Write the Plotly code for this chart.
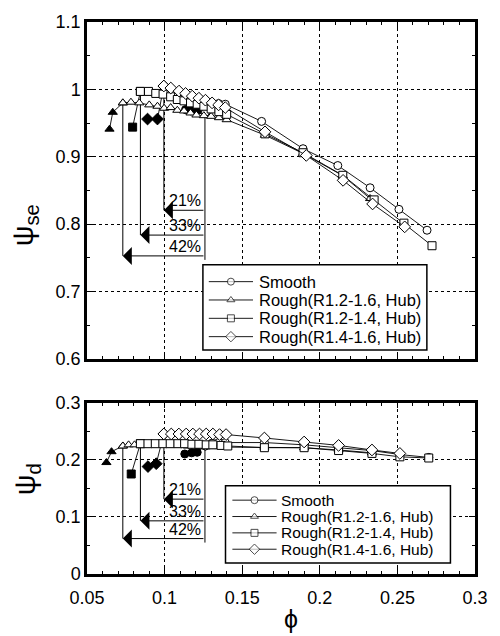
import plotly.graph_objects as go

# ---------------- data: static pressure coefficient (upper panel) ----------------
phi_smooth_se = [0.1263, 0.1306, 0.1348, 0.1391, 0.1625, 0.1892, 0.2116, 0.2324, 0.2510, 0.2691]
psi_smooth_se = [0.966, 0.976, 0.979, 0.978, 0.9525, 0.912, 0.887, 0.854, 0.822, 0.791]
phi_smooth_se_stall = [0.1135, 0.1170, 0.1205, 0.1235]
psi_smooth_se_stall = [0.970, 0.968, 0.968, 0.970]

phi_r1216_se = [0.0731, 0.0783, 0.0837, 0.0901, 0.0954, 0.0997, 0.1039, 0.1082, 0.1125, 0.1167,
                0.1205, 0.1253, 0.1300, 0.1350, 0.1400, 0.1647, 0.1892, 0.2148, 0.2324]
psi_r1216_se = [0.980, 0.981, 0.980, 0.977, 0.975, 0.972, 0.973, 0.969, 0.968, 0.965,
                0.962, 0.961, 0.960, 0.958, 0.955, 0.932, 0.905, 0.872, 0.838]
phi_r1216_se_stall = [0.0645, 0.0666]
psi_r1216_se_stall = [0.941, 0.966]

phi_r1214_se = [0.0844, 0.0896, 0.0943, 0.0990, 0.1039, 0.1082, 0.1125, 0.1167, 0.1210, 0.1253,
                0.1300, 0.1350, 0.1400, 0.1647, 0.1892, 0.2148, 0.2350, 0.2542, 0.2723]
psi_r1214_se = [0.997, 0.997, 0.994, 0.993, 0.989, 0.985, 0.983, 0.980, 0.978, 0.975,
                0.971, 0.967, 0.963, 0.934, 0.906, 0.8725, 0.836, 0.8015, 0.768]
phi_r1214_se_stall = [0.0794]
psi_r1214_se_stall = [0.944]

phi_r1416_se = [0.0995, 0.1040, 0.1093, 0.1135, 0.1178, 0.1221, 0.1263, 0.1306, 0.1348, 0.1391,
                0.1647, 0.1913, 0.2150, 0.2340, 0.2547]
psi_r1416_se = [1.005, 1.002, 0.9975, 0.994, 0.990, 0.987, 0.984, 0.980, 0.977, 0.973,
                0.937, 0.902, 0.865, 0.830, 0.796]
phi_r1416_se_stall = [0.0890, 0.0954]
psi_r1416_se_stall = [0.956, 0.956]

# ---------------- data: dynamic pressure coefficient (lower panel) ----------------
phi_smooth_d = [0.1263, 0.1306, 0.1348, 0.1391, 0.1643, 0.1899, 0.2121, 0.2336, 0.2516, 0.2702]
psi_smooth_d = [0.224, 0.229, 0.230, 0.230, 0.230, 0.226, 0.221, 0.216, 0.209, 0.204]
phi_smooth_d_stall = [0.1130, 0.1175, 0.1210]
psi_smooth_d_stall = [0.210, 0.212, 0.213]

phi_r1216_d = [0.0731, 0.0768, 0.0806, 0.0850, 0.0900, 0.0950, 0.1000, 0.1050, 0.1100, 0.1150,
               0.1200, 0.1250, 0.1300, 0.1350, 0.1400, 0.1643, 0.1899, 0.2121, 0.2336]
psi_r1216_d = [0.224, 0.226, 0.226, 0.226, 0.226, 0.226, 0.225, 0.225, 0.225, 0.224,
               0.224, 0.224, 0.223, 0.223, 0.222, 0.222, 0.221, 0.217, 0.212]
phi_r1216_d_stall = [0.0625, 0.0658]
psi_r1216_d_stall = [0.195, 0.214]

phi_r1214_d = [0.0844, 0.0893, 0.0940, 0.0989, 0.1036, 0.1086, 0.1129, 0.1176, 0.1221, 0.1268,
               0.1311, 0.1364, 0.1407, 0.1643, 0.1899, 0.2121, 0.2336, 0.2516, 0.2702]
psi_r1214_d = [0.228, 0.228, 0.228, 0.228, 0.228, 0.228, 0.228, 0.227, 0.227, 0.226,
               0.226, 0.225, 0.224, 0.221, 0.221, 0.216, 0.211, 0.205, 0.203]
phi_r1214_d_stall = [0.0785]
psi_r1214_d_stall = [0.175]

phi_r1416_d = [0.0995, 0.1043, 0.1092, 0.1139, 0.1182, 0.1225, 0.1268, 0.1311, 0.1354, 0.1396,
               0.1643, 0.1899, 0.2121, 0.2336, 0.2516]
psi_r1416_d = [0.245, 0.245, 0.245, 0.245, 0.245, 0.245, 0.245, 0.245, 0.244, 0.244,
               0.238, 0.231, 0.225, 0.217, 0.211]
phi_r1416_d_stall = [0.0893, 0.0946]
psi_r1416_d_stall = [0.188, 0.193]

# operating-range extension relative to the smooth wall
range_pct = [21, 33, 42]
phi_stall_smooth = 0.126

series_names = ["Smooth", "Rough(R1.2-1.6, Hub)", "Rough(R1.2-1.4, Hub)", "Rough(R1.4-1.6, Hub)"]
symbols = ["circle", "triangle-up", "square", "diamond"]
sizes = [8, 8, 8, 9]

FONT = "Liberation Sans"
fig = go.Figure()

# layout geometry (pixels)
W, H = 500, 636
ML, MR, MT, MB = 87, 18, 17, 62
PW, PH = W - ML - MR, H - MT - MB
X_RANGE = [0.05, 0.3]
Y_RANGE = {"top": [0.6, 1.1], "bottom": [0.0, 0.3]}
Y_DOMAIN = {"top": [0.3896, 1.0], "bottom": [0.0, 0.3106]}


def px_to_data(panel, px, py):
    """Convert a page pixel position into data coordinates of a panel."""
    d0, d1 = Y_DOMAIN[panel]
    top_px = MT + (1 - d1) * PH
    bot_px = MT + (1 - d0) * PH
    y0, y1 = Y_RANGE[panel]
    xv = X_RANGE[0] + (px - ML) / PW * (X_RANGE[1] - X_RANGE[0])
    yv = y1 - (py - top_px) / (bot_px - top_px) * (y1 - y0)
    return xv, yv


panels = {
    "top": dict(xa="x", ya="y", levels=[0.8206, 0.7838, 0.7529], base=0.747,
                legend_box=(205, 262, 433, 348), legend_rows=[279, 297.5, 316, 334.5],
                legend_sample=(211, 256), legend_text=261, legend_font=16.5,
                series=[(phi_smooth_se, psi_smooth_se, phi_smooth_se_stall, psi_smooth_se_stall),
                        (phi_r1216_se, psi_r1216_se, phi_r1216_se_stall, psi_r1216_se_stall),
                        (phi_r1214_se, psi_r1214_se, phi_r1214_se_stall, psi_r1214_se_stall),
                        (phi_r1416_se, psi_r1416_se, phi_r1416_se_stall, psi_r1416_se_stall)]),
    "bottom": dict(xa="x2", ya="y2", levels=[0.131, 0.093, 0.062], base=0.055,
                   legend_box=(228, 485, 457, 563), legend_rows=[499.5, 516, 532.5, 549],
                   legend_sample=(235, 280), legend_text=283, legend_font=15.5,
                   series=[(phi_smooth_d, psi_smooth_d, phi_smooth_d_stall, psi_smooth_d_stall),
                           (phi_r1216_d, psi_r1216_d, phi_r1216_d_stall, psi_r1216_d_stall),
                           (phi_r1214_d, psi_r1214_d, phi_r1214_d_stall, psi_r1214_d_stall),
                           (phi_r1416_d, psi_r1416_d, phi_r1416_d_stall, psi_r1416_d_stall)]),
}

# series that opens each extended range: 21% -> R1.4-1.6, 33% -> R1.2-1.4, 42% -> R1.2-1.6
pct_series = [3, 2, 1]

for key, p in panels.items():
    ser = p["series"]
    # guide lines: from each series' first stable point down to its arrow level
    gx, gy = [], []
    for pct, lev, si in zip(range_pct, p["levels"], pct_series):
        phi_left = phi_stall_smooth * (1 - pct / 100)
        gx += [phi_left, phi_left, None]
        gy += [ser[si][1][0], lev, None]
    gx += [phi_stall_smooth, phi_stall_smooth, None]
    gy += [ser[0][1][0], p["base"], None]
    fig.add_trace(go.Scatter(x=gx, y=gy, mode="lines", line=dict(color="black", width=1),
                             xaxis=p["xa"], yaxis=p["ya"], showlegend=False, hoverinfo="skip"))

    # stall points (filled) joined to the first stable point
    for i, (fx, fy, sx, sy) in enumerate(ser):
        fig.add_trace(go.Scatter(
            x=sx + [fx[0]], y=sy + [fy[0]], mode="lines+markers",
            xaxis=p["xa"], yaxis=p["ya"], showlegend=False,
            line=dict(color="black", width=0.9),
            marker=dict(symbol=symbols[i], size=sizes[i],
                        color=["black"] * len(sx) + ["white"],
                        line=dict(color="black", width=1))))

    # stable operating points
    for i, (fx, fy, sx, sy) in enumerate(ser):
        fig.add_trace(go.Scatter(
            x=fx, y=fy, mode="lines+markers", name=series_names[i], showlegend=False,
            xaxis=p["xa"], yaxis=p["ya"],
            line=dict(color="black", width=0.9),
            marker=dict(symbol=symbols[i], size=sizes[i], color="white",
                        line=dict(color="black", width=1))))

    # arrows and percentage labels
    for pct, lev in zip(range_pct, p["levels"]):
        phi_left = phi_stall_smooth * (1 - pct / 100)
        fig.add_annotation(x=phi_left, y=lev, ax=phi_stall_smooth, ay=lev,
                           xref=p["xa"], yref=p["ya"], axref=p["xa"], ayref=p["ya"],
                           text="", showarrow=True, arrowhead=1, arrowsize=3,
                           arrowwidth=1, arrowcolor="black")
        fig.add_annotation(x=0.1133, y=lev, xref=p["xa"], yref=p["ya"], text=f"{pct}%",
                           showarrow=False, yanchor="bottom", yshift=-1,
                           font=dict(family=FONT, size=16, color="black"))

    # legend box (opaque over the grid, under the sample marks)
    bx0, by0, bx1, by1 = p["legend_box"]
    lx0, ly0 = px_to_data(key, bx0, by0)
    lx1, ly1 = px_to_data(key, bx1, by1)
    fig.add_shape(type="rect", x0=lx0, y0=ly1, x1=lx1, y1=ly0, xref=p["xa"], yref=p["ya"],
                  line=dict(color="black", width=1.5), fillcolor="white", layer="between")
    sx0, sx1 = p["legend_sample"]
    for i, row in enumerate(p["legend_rows"]):
        a, yrow = px_to_data(key, sx0, row)
        b, _ = px_to_data(key, sx1, row)
        fig.add_trace(go.Scatter(
            x=[a, (a + b) / 2, b], y=[yrow] * 3, mode="lines+markers", showlegend=False,
            xaxis=p["xa"], yaxis=p["ya"], hoverinfo="skip",
            line=dict(color="black", width=0.9),
            marker=dict(symbol=symbols[i], size=[0, sizes[i] - 1, 0], color="white",
                        line=dict(color="black", width=[0, 1, 0]))))
        tx, _ = px_to_data(key, p["legend_text"], row)
        fig.add_annotation(x=tx, y=yrow, xref=p["xa"], yref=p["ya"], text=series_names[i],
                           showarrow=False, xanchor="left", yanchor="middle", borderpad=0,
                           font=dict(family=FONT, size=p["legend_font"], color="black"))

axis_common = dict(showline=True, linewidth=2.5, linecolor="black", mirror="ticks",
                   ticks="inside", ticklen=6, tickwidth=1, tickcolor="black",
                   showgrid=True, gridcolor="black", griddash="dot", gridwidth=0.8,
                   zeroline=False,
                   tickfont=dict(family=FONT, size=18, color="black"))
minor_x = dict(ticks="inside", ticklen=3.5, dtick=0.01, tickcolor="black", showgrid=False)
minor_y = dict(ticks="inside", ticklen=3.5, dtick=0.05, tickcolor="black", showgrid=False)

fig.update_layout(
    width=W, height=H,
    margin=dict(l=ML, r=MR, t=MT, b=MB),
    paper_bgcolor="white", plot_bgcolor="white",
    font=dict(family=FONT, color="black"),
    showlegend=False,
    xaxis=dict(axis_common, range=X_RANGE, dtick=0.05, tick0=0.05, showticklabels=False,
               anchor="y", domain=[0, 1], minor=minor_x),
    yaxis=dict(axis_common, range=Y_RANGE["top"], dtick=0.1, tick0=0.6, anchor="x",
               domain=Y_DOMAIN["top"], minor=minor_y),
    xaxis2=dict(axis_common, range=X_RANGE, dtick=0.05, tick0=0.05, anchor="y2", domain=[0, 1],
                minor=minor_x, ticklabelstandoff=6),
    yaxis2=dict(axis_common, range=Y_RANGE["bottom"], dtick=0.1, tick0=0, anchor="x2",
                domain=Y_DOMAIN["bottom"], minor=minor_y),
)

# axis titles
fig.add_annotation(x=-0.1595, y=0.632, xref="paper", yref="paper", text="ψ<sub>se</sub>",
                   xanchor="center", yanchor="middle",
                   textangle=-90, showarrow=False, font=dict(family=FONT, size=29, color="black"))
fig.add_annotation(x=-0.154, y=0.172, xref="paper", yref="paper", text="ψ<sub>d</sub>",
                   xanchor="center", yanchor="middle",
                   textangle=-90, showarrow=False, font=dict(family=FONT, size=29, color="black"))
fig.add_annotation(x=0.525, y=-0.081, xref="paper", yref="paper", text="ϕ",
                   xanchor="center", yanchor="middle",
                   showarrow=False, font=dict(family=FONT, size=25, color="black"))

fig.write_html("out.html")
